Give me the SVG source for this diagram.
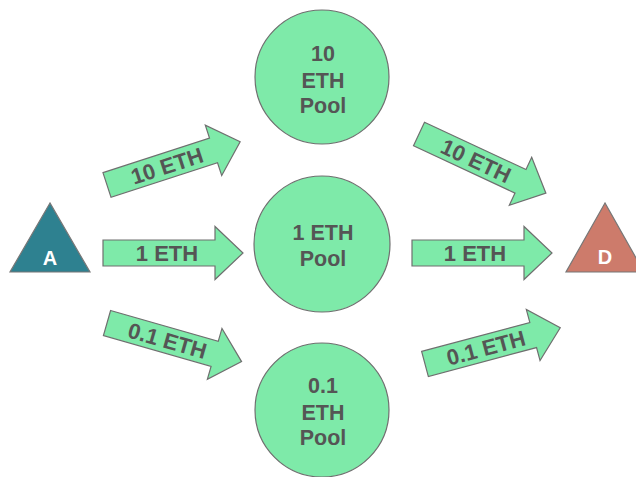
<svg xmlns="http://www.w3.org/2000/svg" width="636" height="477" viewBox="0 0 636 477">
  <defs>
    <!-- block arrow, drawn along +x from its left-centre point -->
    <path id="blockArrow" d="M0,-13 L112,-13 L112,-26.5 L140,0 L112,26.5 L112,13 L0,13 Z"/>
  </defs>
  <style>
    .pool { fill: #7eeaa9; stroke: #6f6f6f; stroke-width: 1.2; }
    .arrow { fill: #7eeaa9; stroke: #6f6f6f; stroke-width: 1.2; stroke-linejoin: miter; }
    .lbl { font-family: "Liberation Sans", Arial, sans-serif; font-weight: bold; font-size: 22px; fill: #555555; text-anchor: middle; }
    .plbl { font-family: "Liberation Sans", Arial, sans-serif; font-weight: bold; font-size: 21.5px; fill: #555555; text-anchor: middle; }
    .tlbl { font-family: "Liberation Sans", Arial, sans-serif; font-weight: bold; font-size: 20px; fill: #ffffff; text-anchor: middle; }
  </style>

  <rect x="0" y="0" width="636" height="477" fill="#ffffff"/>

  <g id="connectors">
    <g id="a-to-10">
      <g transform="translate(107,185) rotate(-18)">
        <use href="#blockArrow" class="arrow"/>
        <text class="lbl" x="63" y="8">10 ETH</text>
      </g>
    </g>
    <g id="a-to-1">
      <g transform="translate(103,253)">
        <use href="#blockArrow" class="arrow"/>
        <text class="lbl" x="64" y="8">1 ETH</text>
      </g>
    </g>
    <g id="a-to-01">
      <g transform="translate(107,323) rotate(16)">
        <use href="#blockArrow" class="arrow"/>
        <text class="lbl" x="63" y="8">0.1 ETH</text>
      </g>
    </g>
    <g id="10-to-d">
      <g transform="translate(419,134) rotate(25)">
        <use href="#blockArrow" class="arrow"/>
        <text class="lbl" x="63" y="8">10 ETH</text>
      </g>
    </g>
    <g id="1-to-d">
      <g transform="translate(412,253)">
        <use href="#blockArrow" class="arrow"/>
        <text class="lbl" x="63" y="8">1 ETH</text>
      </g>
    </g>
    <g id="01-to-d">
      <g transform="translate(425,364) rotate(-15)">
        <use href="#blockArrow" class="arrow"/>
        <text class="lbl" x="63" y="8">0.1 ETH</text>
      </g>
    </g>
  </g>

  <g id="node-a">
    <polygon points="50,203 10,272 90,272" fill="#2e8190" stroke="#777777" stroke-width="1.2"/>
    <text class="tlbl" x="50" y="265">A</text>
  </g>

  <g id="node-d">
    <polygon points="605,203 566,272 644,272" fill="#cd7b6b" stroke="#777777" stroke-width="1.2"/>
    <text class="tlbl" x="605" y="264">D</text>
  </g>

  <g id="pool-10">
    <circle class="pool" cx="322" cy="77" r="67"/>
    <text class="plbl" x="323" y="61">10</text>
    <text class="plbl" x="323" y="88">ETH</text>
    <text class="plbl" x="323" y="113">Pool</text>
  </g>

  <g id="pool-1">
    <circle class="pool" cx="322" cy="244" r="68"/>
    <text class="plbl" x="323" y="240">1 ETH</text>
    <text class="plbl" x="323" y="266">Pool</text>
  </g>

  <g id="pool-01">
    <circle class="pool" cx="322" cy="410" r="67"/>
    <text class="plbl" x="323" y="393">0.1</text>
    <text class="plbl" x="323" y="420">ETH</text>
    <text class="plbl" x="323" y="445">Pool</text>
  </g>
</svg>
